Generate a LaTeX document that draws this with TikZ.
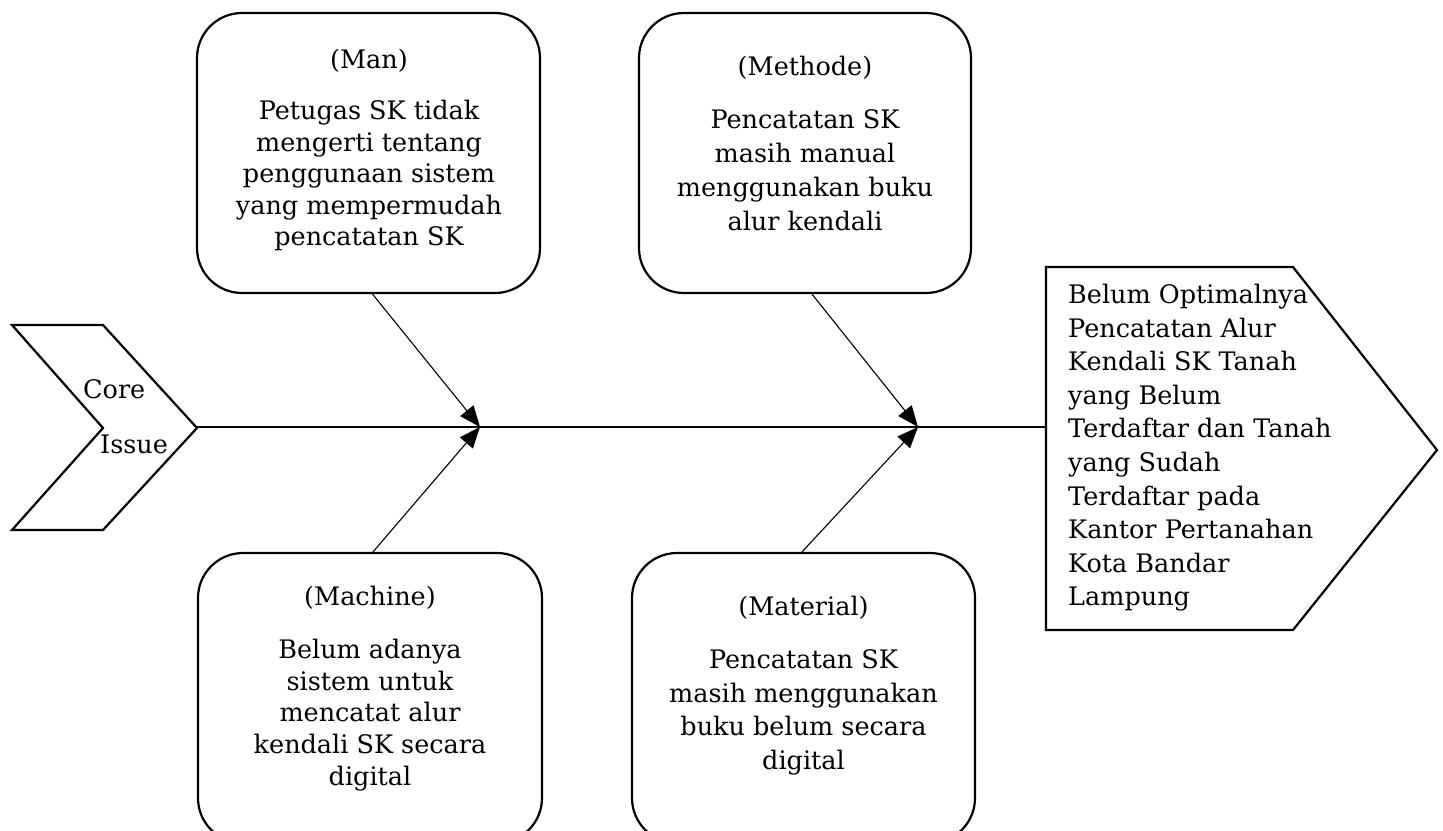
\documentclass[tikz,border=0pt]{standalone}
\usepackage{fontspec}
\setmainfont{DejaVu Serif}
\usetikzlibrary{arrows.meta}
\tikzset{
  causebox/.style={draw, line width=2.2pt, rounded corners=45pt, inner sep=0pt, minimum height=280pt},
  boxtext/.style={align=center, inner sep=0pt, anchor=north},
  outline/.style={draw, line width=2.2pt, line join=miter},
  bone/.style={line width=1.1pt, -{Triangle[length=21pt,width=17pt]}},
  spine/.style={line width=1.5pt},
}
\begin{document}
\begin{tikzpicture}[x=1pt,y=-1pt]
\useasboundingbox (0,0) rectangle (1443,830);
\clip (0,0) rectangle (1443,830);
% head shapes
\draw[outline] (12,325) -- (103,325) -- (197,428) -- (103,530) -- (12,530) -- (103,428) -- cycle;
\draw[outline] (1046,267) -- (1293,267) -- (1437,450) -- (1293,630) -- (1046,630) -- cycle;
\coordinate (coretip) at (197,427);
\coordinate (effectin) at (1046,427);
\coordinate (j1) at (480,427);
\coordinate (j2) at (918,427);
% cause boxes
\node[causebox, minimum width=343pt] (man) at (368.5,153) {};
\node[causebox, minimum width=332pt] (methode) at (805,153) {};
\node[causebox, minimum width=344pt, minimum height=290pt] (machine) at (370,698) {};
\node[causebox, minimum width=343pt, minimum height=290pt] (material) at (803.5,698) {};
% texts
\node[boxtext, font=\fontsize{25.5}{31.5}\selectfont] (mantext) at (369,49)
  {(Man)\\[19.5pt]Petugas SK tidak\\mengerti tentang\\penggunaan sistem\\yang mempermudah\\pencatatan SK};
\node[boxtext, font=\fontsize{25.5}{34}\selectfont] (methodetext) at (805,56)
  {(Methode)\\[19pt]Pencatatan SK\\masih manual\\menggunakan buku\\alur kendali};
\node[boxtext, font=\fontsize{25.5}{31.7}\selectfont] (machinetext) at (370,586)
  {(Machine)\\[21.3pt]Belum adanya\\sistem untuk\\mencatat alur\\kendali SK secara\\digital};
\node[boxtext, font=\fontsize{25.5}{33.5}\selectfont] (materialtext) at (803.5,596)
  {(Material)\\[19.5pt]Pencatatan SK\\masih menggunakan\\buku belum secara\\digital};
\node[align=left, inner sep=0pt, anchor=north west, font=\fontsize{25.5}{33.6}\selectfont] (effect) at (1068,284)
  {Belum Optimalnya\\Pencatatan Alur\\Kendali SK Tanah\\yang Belum\\Terdaftar dan Tanah\\yang Sudah\\Terdaftar pada\\Kantor Pertanahan\\Kota Bandar\\Lampung};
\node[align=left, inner sep=0pt, anchor=north west, font=\fontsize{25.5}{31.5}\selectfont] (core) at (83,379)
  {Core\\[23.5pt]\hspace*{17pt}Issue};
% connectors
\draw[spine] (coretip) -- (effectin);
\draw[bone] ([xshift=4pt]man.south) -- (j1);
\draw[bone] ([xshift=3pt]machine.north) -- (j1);
\draw[bone] ([xshift=7pt]methode.south) -- (j2);
\draw[bone] ([xshift=-1.5pt]material.north) -- (j2);
\end{tikzpicture}
\end{document}
